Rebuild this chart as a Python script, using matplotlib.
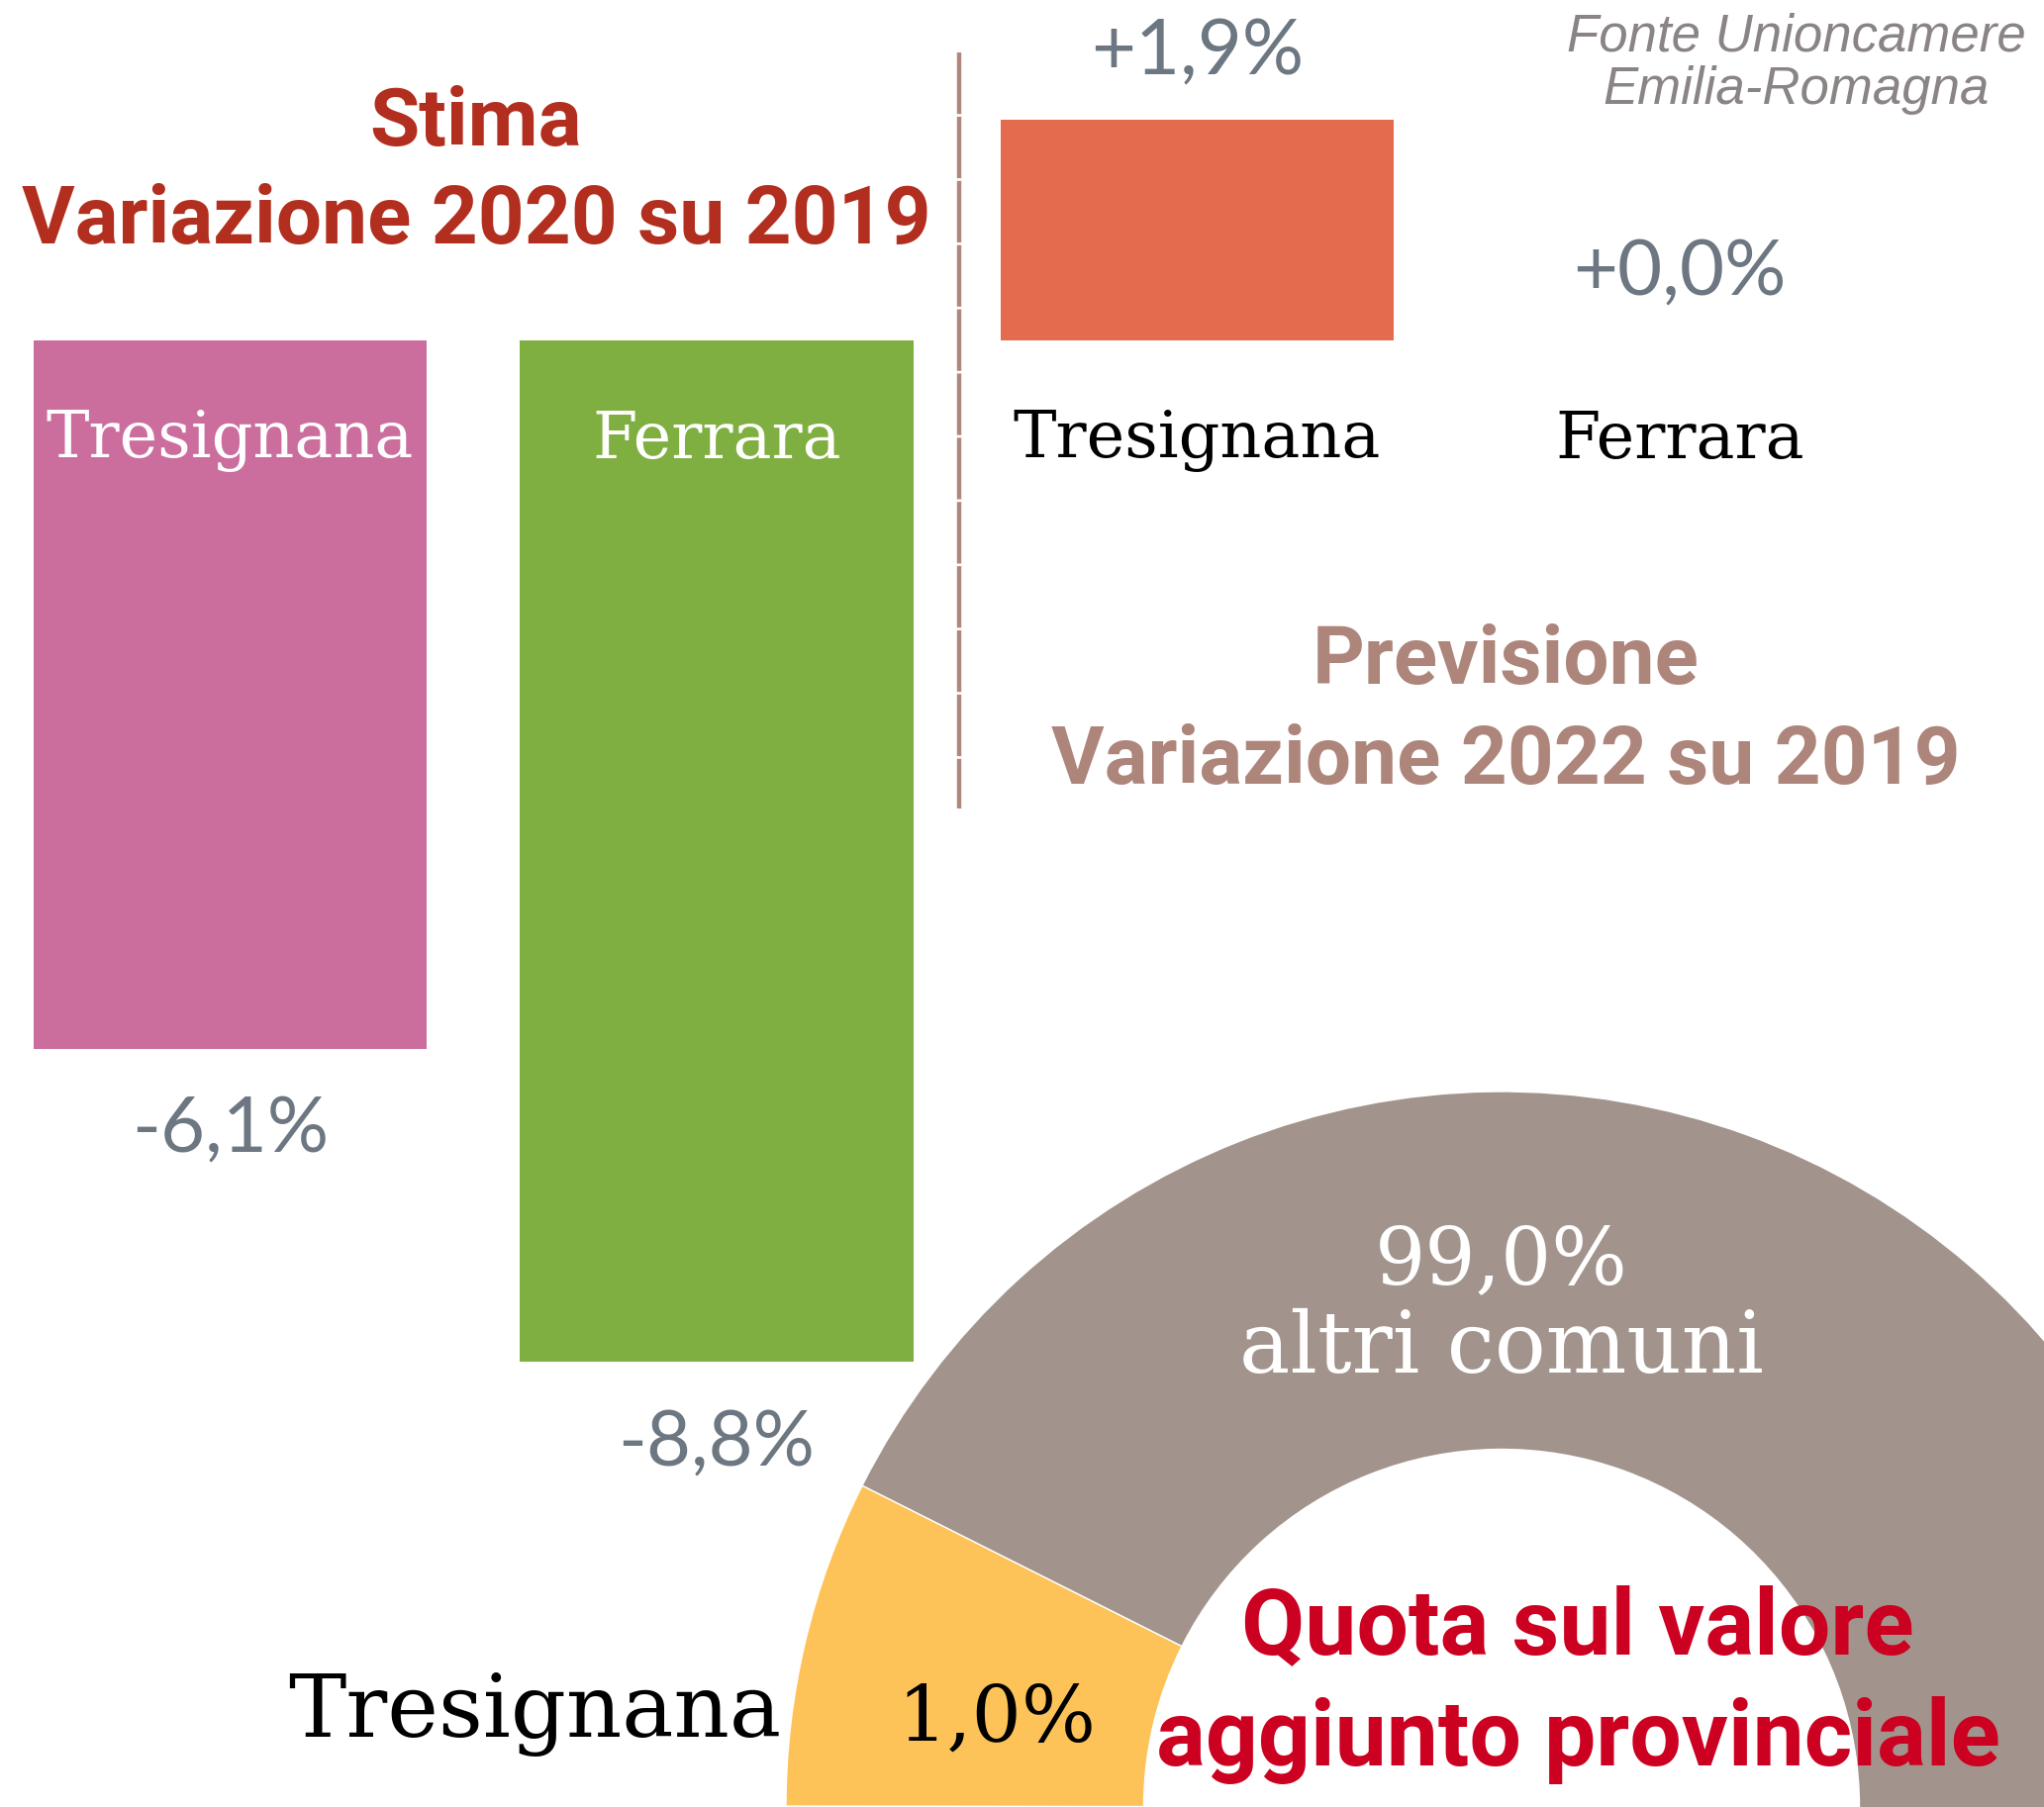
import matplotlib
matplotlib.use('Agg')
from matplotlib import pyplot as plt
from matplotlib.lines import Line2D

# chart data
categories = ['Tresignana', 'Ferrara']
change_2020 = [-6.1, -8.8]
change_2022 = [1.9, 0.0]
share_names = ['Tresignana', 'altri comuni']
share_values = [1.0, 99.0]
# slice sizes as drawn in the graphic (the small slice is enlarged there)
share_drawn = [7.4, 92.6]

bar_colors_2020 = ['#cb6e9e', '#7fae41']
bar_color_2022 = '#e56b4e'
donut_colors = ['#fdc358', '#a2948c']
value_color = '#6d7781'
hand_font = 'Roboto'
slab_font = 'DejaVu Serif'

W, H = 2065, 1826
fig = plt.figure(figsize=(W / 100, H / 100), dpi=100)


def px_axes(left, top, width, height):
    """ Add an axes placed by pixel coordinates measured from the top-left corner """
    return fig.add_axes([left / W, 1 - (top + height) / H, width / W, height / H])


def fmt(v, sign=False):
    s = f'{v:+.1f}%' if sign else f'{v:.1f}%'
    return s.replace('.', ',')


# common vertical scale for both bar charts
base_y, px_per_pct = 344, 117.3
ylim = (-(H - base_y) / px_per_pct, base_y / px_per_pct)
sep_x = 969

# left chart: 2020 vs 2019
ax1 = px_axes(0, 0, sep_x, H)
ax1.bar(range(len(categories)), change_2020, width=0.808, color=bar_colors_2020)
for i, (cat, v) in enumerate(zip(categories, change_2020)):
    ax1.text(i, -0.86, cat, color='white', ha='center', va='center',
             fontsize=47, family=slab_font)
    ax1.annotate(fmt(v), xy=(i, v), xytext=(0, -60), textcoords='offset points',
                 ha='center', va='center', fontsize=56, family='Lato', color=value_color)
ax1.set_xlim(-232.5 / 491.5, (sep_x - 232.5) / 491.5)
ax1.set_ylim(*ylim)
ax1.axis('off')

# right chart: 2022 vs 2019
ax2 = px_axes(sep_x, 0, W - sep_x, H)
ax2.bar(range(len(categories)), change_2022, width=0.814, color=bar_color_2022)
for i, (cat, v) in enumerate(zip(categories, change_2022)):
    ax2.text(i, -0.86, cat, color='black', ha='center', va='center',
             fontsize=47, family=slab_font)
    ax2.annotate(fmt(v, sign=True), xy=(i, v), xytext=(0, 48), textcoords='offset points',
                 ha='center', va='center', fontsize=56, family='Lato', color=value_color)
ax2.set_xlim((sep_x - 1209.5) / 487.5, (W - 1209.5) / 487.5)
ax2.set_ylim(*ylim)
ax2.axis('off')

# separator between the two bar charts
fig.add_artist(Line2D([sep_x / W, sep_x / W], [1 - 53 / H, 1 - 817 / H],
                      transform=fig.transFigure, color='#b0877d', linewidth=3.2,
                      linestyle=(0, (14, 0.6))))

# donut of the share on provincial value added
ax3 = fig.add_axes([794 / W, -723 / H, 1446 / W, 1446 / H])
ax3.pie(share_drawn, colors=donut_colors, startangle=153.3, counterclock=True, radius=1,
        wedgeprops=dict(width=0.5, edgecolor='white', linewidth=1))
ax3.set_xlim(-1, 1)
ax3.set_ylim(-1, 1)
ax3.axis('off')
ax3.text(0, 0.762, fmt(share_values[1]), color='white', ha='center', va='center',
         fontsize=58, family=slab_font)
ax3.text(0, 0.640, share_names[1], color='white', ha='center', va='center',
         fontsize=62, family=slab_font)
ax3.text(-0.705, 0.122, fmt(share_values[0]), color='black', ha='center', va='center',
         fontsize=57, family=slab_font)
ax3.text(-1.351, 0.130, share_names[0], color='black', ha='center', va='center',
         fontsize=63, family=slab_font)

# titles
fig.text(481 / W, 1 - 125 / H, 'Stima', color='#b22e1e', ha='center', va='center',
         fontsize=59, family=hand_font, weight='bold')
fig.text(481 / W, 1 - 224 / H, 'Variazione 2020 su 2019', color='#b22e1e', ha='center',
         va='center', fontsize=59, family=hand_font, weight='bold')
fig.text(1521 / W, 1 - 669 / H, 'Previsione', color='#ad857b', ha='center', va='center',
         fontsize=59, family=hand_font, weight='bold')
fig.text(1521 / W, 1 - 770 / H, 'Variazione 2022 su 2019', color='#ad857b', ha='center',
         va='center', fontsize=59, family=hand_font, weight='bold')
fig.text(1594 / W, 1 - 1646 / H, 'Quota sul valore', color='#cc0020', ha='center',
         va='center', fontsize=67, family=hand_font, weight='bold')
fig.text(1594 / W, 1 - 1758 / H, 'aggiunto provinciale', color='#cc0020', ha='center',
         va='center', fontsize=67, family=hand_font, weight='bold')

# source note
fig.text(1815 / W, 1 - 38 / H, 'Fonte Unioncamere', color='#8a8584', ha='center',
         va='center', fontsize=38, family='Liberation Sans', style='italic')
fig.text(1815 / W, 1 - 91 / H, 'Emilia-Romagna', color='#8a8584', ha='center',
         va='center', fontsize=38, family='Liberation Sans', style='italic')

plt.savefig('out.png', dpi=100)
